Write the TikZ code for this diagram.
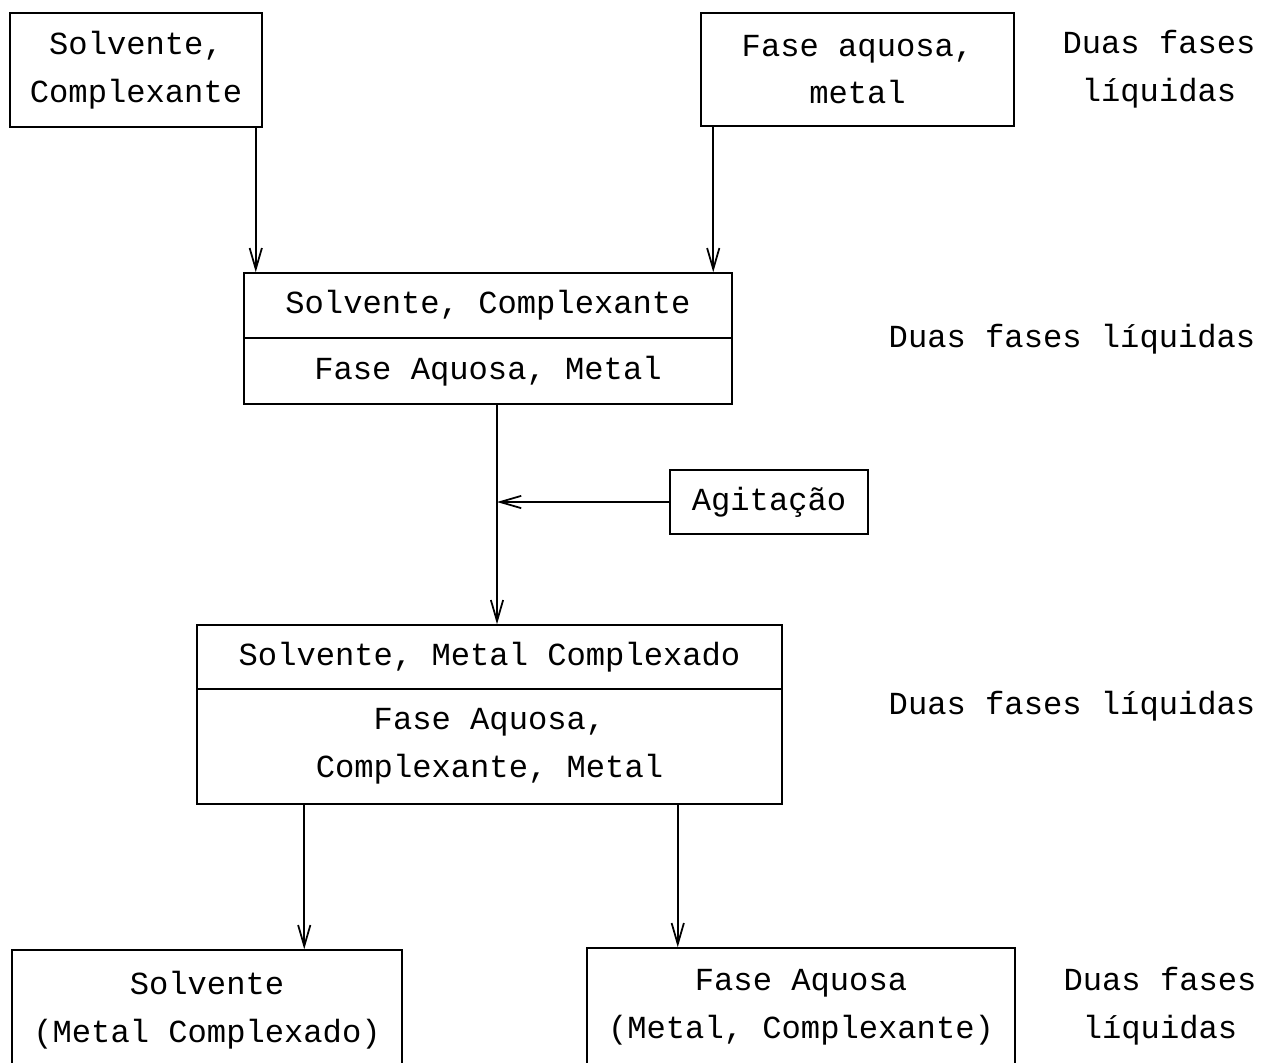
\documentclass[tikz,border=0pt]{standalone}
\usepackage{fontspec}
\setmainfont{Liberation Mono}
\usepackage{tikz}
\usetikzlibrary{arrows.meta,positioning,calc}

\begin{document}
\begin{tikzpicture}[
        x=0.02cm, y=-0.02cm,
        boxcell/.style={
            draw,
            line width=0.9pt,
            inner sep=0pt,
            align=center,
            font=\fontsize{18.3pt}{27.2pt}\selectfont
        },
        sidelabel/.style={
            align=center,
            inner sep=0pt,
            font=\fontsize{18.3pt}{27.2pt}\selectfont
        },
        flow/.style={
            line width=1pt,
            -{Straight Barb[length=12pt,width=7pt]}
        }
    ]

    \useasboundingbox (0,0) rectangle (1263,1062);
    \clip (0,0) rectangle (1263,1062);

    % entradas
    \node[boxcell, minimum width=5.04cm, minimum height=2.28cm] (solvcomp) at (136,70) {Solvente,\\Complexante};
    \node[boxcell, minimum width=6.26cm, minimum height=2.26cm] (fasemetal) at (857.5,69.5) {Fase aquosa,\\metal};
    \node[sidelabel] (fases1) at (1159,69) {Duas fases\\líquidas};

    % mistura
    \node[boxcell, minimum width=9.76cm, minimum height=1.30cm] (mixtop) at (488,305.5) {Solvente, Complexante};
    \node[boxcell, minimum width=9.76cm, minimum height=1.32cm] (mixbot) at (488,371) {Fase Aquosa, Metal};
    \node[sidelabel] (fases2) at (1072,339) {Duas fases líquidas};

    \node[boxcell, minimum width=3.96cm, minimum height=1.28cm] (agit) at (769,502) {Agitação};

    % depois da agitacao
    \node[boxcell, minimum width=11.7cm, minimum height=1.28cm] (restop) at (489.5,657) {Solvente, Metal Complexado};
    \node[boxcell, minimum width=11.7cm, minimum height=2.3cm] (resbot) at (489.5,746.5) {Fase Aquosa,\\Complexante, Metal};
    \node[sidelabel] (fases3) at (1072,706) {Duas fases líquidas};

    % separacao
    \node[boxcell, minimum width=7.8cm, minimum height=2.4cm] (orgfase) at (207,1010) {Solvente\\(Metal Complexado)};
    \node[boxcell, minimum width=8.56cm, minimum height=2.36cm] (aqfase) at (801,1007) {Fase Aquosa\\(Metal, Complexante)};
    \node[sidelabel] (fases4) at (1160,1006) {Duas fases\\líquidas};

    \coordinate (s1) at ([xshift=-0.14cm]solvcomp.south east);
    \coordinate (s2) at ([xshift=0.26cm]fasemetal.south west);
    \coordinate (s3) at ([xshift=0.18cm]mixbot.south);
    \coordinate (s4) at ([xshift=2.16cm]resbot.south west);
    \coordinate (s5) at ([xshift=-2.1cm]resbot.south east);

    \draw[flow] (s1) -- (s1 |- mixtop.north);
    \draw[flow] (s2) -- (s2 |- mixtop.north);
    \draw[flow] (s3) -- (s3 |- restop.north);
    \draw[flow] (agit.west) -- (agit.west -| s3);
    \draw[flow] (s4) -- (s4 |- orgfase.north);
    \draw[flow] (s5) -- (s5 |- aqfase.north);

\end{tikzpicture}
\end{document}
